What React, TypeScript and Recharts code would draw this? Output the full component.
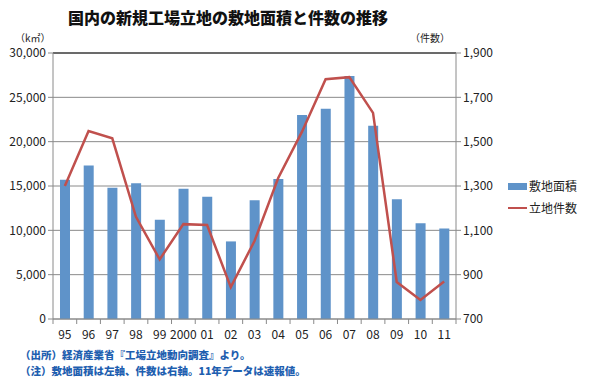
import {
  ComposedChart,
  Bar,
  Line,
  XAxis,
  YAxis,
  CartesianGrid,
  ReferenceLine,
} from "recharts";

const years = ["95", "96", "97", "98", "99", "2000", "01", "02", "03", "04", "05", "06", "07", "08", "09", "10", "11"];
const siteArea = [15700, 17300, 14800, 15300, 11200, 14700, 13800, 8750, 13400, 15800, 23000, 23700, 27400, 21800, 13500, 10800, 10200];
const siteCount = [1300, 1548, 1515, 1161, 969, 1128, 1124, 844, 1052, 1336, 1544, 1782, 1791, 1630, 867, 786, 869];
const leftTicks = [0, 5000, 10000, 15000, 20000, 25000, 30000];
const rightTicks = [700, 900, 1100, 1300, 1500, 1700, 1900];

const W = 591;
const H = 390;
const PLOT_LEFT = 53;
const PLOT_RIGHT = 456;
const STEP = (PLOT_RIGHT - PLOT_LEFT) / years.length;

const BAR = "#5f93c9";
const LINE = "#c0504d";
const AXIS = "#8a8a8a";
const FONT = "'Noto Sans CJK JP', 'Noto Sans', sans-serif";
const NOTE = "#1f5fb0";

const data = years.map((y, i) => ({ year: y, area: siteArea[i], count: siteCount[i] }));

const fmt = (v: number) => v.toLocaleString("en-US");

const YearTick = (props: any) => {
  const { x, y, payload, index } = props;
  return (
    <g>
      <line x1={x + STEP / 2} x2={x + STEP / 2} y1={y - 8} y2={y - 3} stroke={AXIS} />
      {index === 0 && (
        <line x1={x - STEP / 2} x2={x - STEP / 2} y1={y - 8} y2={y - 3} stroke={AXIS} />
      )}
      <text x={x} y={y + 12} textAnchor="middle" fontSize={12} fill="#222" fontFamily={FONT}>
        {payload.value}
      </text>
    </g>
  );
};

const App = () => {
  return (
    <div style={{ position: "fixed", left: 0, top: 0, width: W, height: H, background: "#fff", fontFamily: FONT }}>
      <div
        style={{
          position: "absolute",
          left: 0,
          width: 456,
          top: 5,
          textAlign: "center",
          fontSize: 16,
          fontWeight: 900,
          color: "#111",
        }}
      >
        国内の新規工場立地の敷地面積と件数の推移
      </div>
      <div style={{ position: "absolute", left: 15, top: 30, fontSize: 10, color: "#222" }}>（k㎡）</div>
      <div style={{ position: "absolute", left: 410, top: 30, fontSize: 10, color: "#222" }}>（件数）</div>
      <ComposedChart
        width={W}
        height={H}
        data={data}
        margin={{ top: 53, right: 75, bottom: 41, left: 0 }}
      >
        <CartesianGrid vertical={false} stroke={AXIS} yAxisId="left" />
        <XAxis
          dataKey="year"
          interval={0}
          height={30}
          tickLine={false}
          axisLine={{ stroke: AXIS }}
          tick={<YearTick />}
        />
        <YAxis
          yAxisId="left"
          width={53}
          domain={[0, 30000]}
          ticks={leftTicks}
          tickFormatter={fmt}
          tickSize={5}
          tickLine={{ stroke: AXIS }}
          axisLine={{ stroke: AXIS }}
          tick={{ fontSize: 12, fill: "#222", fontFamily: FONT }}
        />
        <YAxis
          yAxisId="right"
          orientation="right"
          width={60}
          domain={[700, 1900]}
          ticks={rightTicks}
          tickFormatter={fmt}
          tickSize={5}
          tickLine={{ stroke: AXIS }}
          axisLine={{ stroke: AXIS }}
          tick={{ fontSize: 12, fill: "#222", fontFamily: FONT, textAnchor: "start" }}
        />
        <ReferenceLine yAxisId="left" y={30000} stroke="#111" />
        <Bar yAxisId="left" dataKey="area" name="敷地面積" fill={BAR} barSize={10} isAnimationActive={false} />
        <Line
          yAxisId="right"
          dataKey="count"
          name="立地件数"
          type="linear"
          stroke={LINE}
          strokeWidth={2.5}
          dot={false}
          isAnimationActive={false}
        />
      </ComposedChart>
      <div
        style={{
          position: "absolute",
          left: 508,
          top: 175,
          fontSize: 12,
          color: "#222",
          lineHeight: "22px",
        }}
      >
        <div style={{ display: "flex", alignItems: "center" }}>
          <span style={{ display: "inline-block", width: 19, height: 7, background: BAR, marginRight: 2 }} />
          敷地面積
        </div>
        <div style={{ display: "flex", alignItems: "center" }}>
          <span style={{ display: "inline-block", width: 19, height: 2, background: LINE, marginRight: 2 }} />
          立地件数
        </div>
      </div>
      <div
        style={{
          position: "absolute",
          left: 20,
          top: 347,
          fontSize: 10.5,
          fontWeight: 900,
          color: NOTE,
          lineHeight: "16px",
        }}
      >
        <div>（出所）経済産業省『工場立地動向調査』より。</div>
        <div>（注）敷地面積は左軸、件数は右軸。11年データは速報値。</div>
      </div>
    </div>
  );
};

export default App;
